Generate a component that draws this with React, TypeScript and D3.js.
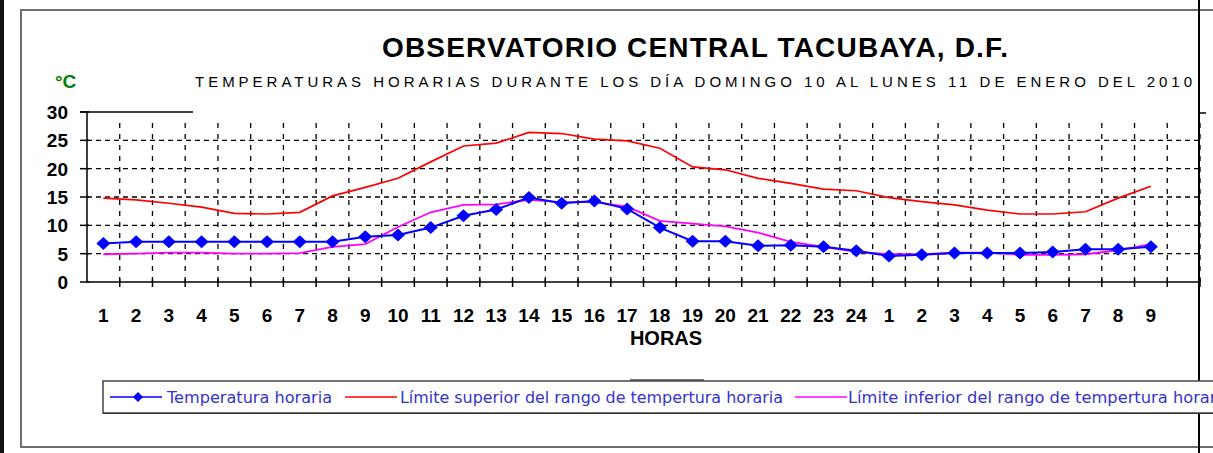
import * as d3 from "d3";

// hours on the x axis (sunday 10 -> monday 11)
const hourLabels = [
  "1", "2", "3", "4", "5", "6", "7", "8", "9", "10", "11", "12",
  "13", "14", "15", "16", "17", "18", "19", "20", "21", "22", "23", "24",
  "1", "2", "3", "4", "5", "6", "7", "8", "9",
];
// one empty slot after the last hour
const categories = [...hourLabels, ""];

const temperature = [
  6.8, 7.1, 7.1, 7.1, 7.1, 7.1, 7.1, 7.1, 8.0, 8.3, 9.6, 11.7,
  12.8, 14.9, 13.9, 14.3, 12.9, 9.6, 7.2, 7.2, 6.4, 6.5, 6.2, 5.5,
  4.6, 4.8, 5.1, 5.1, 5.1, 5.3, 5.8, 5.8, 6.2,
];
const upperLimit = [
  14.8, 14.5, 13.9, 13.2, 12.1, 12.0, 12.3, 15.2, 16.7, 18.3, 21.2, 24.0,
  24.5, 26.4, 26.2, 25.2, 24.9, 23.6, 20.3, 19.8, 18.3, 17.4, 16.4, 16.1,
  14.9, 14.2, 13.6, 12.7, 12.0, 12.0, 12.4, 14.8, 16.9,
];
const lowerLimit = [
  4.9, 5.0, 5.2, 5.2, 5.0, 5.0, 5.1, 6.2, 6.7, 9.7, 12.3, 13.6,
  13.7, 14.5, 14.1, 14.1, 13.3, 10.8, 10.3, 9.8, 8.7, 7.1, 6.2, 5.3,
  4.9, 4.9, 5.2, 5.2, 4.8, 4.8, 4.9, 5.6, 6.7,
];
const yTicks = [0, 5, 10, 15, 20, 25, 30];

const legendItems = [
  { label: "Temperatura horaria", color: "#0000ff", marker: true },
  { label: "Límite superior del rango de tempertura horaria", color: "#ff0000", marker: false },
  { label: "Límite inferior del rango  de tempertura horaria", color: "#ff00ff", marker: false },
];

const W = 1213;
const H = 453;
const FONT = "'Liberation Sans', Arial, sans-serif";

function diamond(cx: number, cy: number, rx: number, ry: number) {
  return `M${cx},${cy - ry}L${cx + rx},${cy}L${cx},${cy + ry}L${cx - rx},${cy}Z`;
}

export default function App() {
  const plot = { left: 87, right: 1200, top: 112, bottom: 282 };

  const x = d3
    .scaleBand<number>()
    .domain(categories.map((_, i) => i))
    .range([plot.left, plot.right])
    .padding(0);
  const bw = x.bandwidth();
  const cx = (i: number) => (x(i) as number) + bw / 2;

  const y = d3.scaleLinear().domain([0, 30]).range([plot.bottom, plot.top]);

  const line = d3
    .line<number>()
    .x((_, i) => cx(i))
    .y((d) => y(d));

  const boundaries = categories.map((_, i) => (x(i) as number) + bw);

  // legend layout
  const legY = 397;
  const legStarts = [110, 345, 795];
  const textStarts = [167, 400, 848];
  const textLens = [165, 383, 383];

  return (
    <svg
      width={W}
      height={H}
      style={{ position: "absolute", left: 0, top: 0, background: "#fff" }}
      fontFamily={FONT}
    >
      <rect x={0} y={0} width={W} height={H} fill="#fff" />
      <rect x={0} y={0} width={4} height={H} fill="#111" />

      {/* outer frame */}
      <rect x={21} y={10} width={W} height={437} fill="none" stroke="#6e6e6e" strokeWidth={2} />
      <line x1={1199} x2={1199} y1={0} y2={H} stroke="#000" strokeWidth={2} />

      {/* titles */}
      <text x={382} y={57} fontSize={28} fontWeight="bold" textLength={626} lengthAdjust="spacing">
        OBSERVATORIO CENTRAL TACUBAYA, D.F.
      </text>
      <text x={195} y={87} fontSize={15} textLength={997} lengthAdjust="spacing">
        TEMPERATURAS HORARIAS DURANTE LOS DÍA DOMINGO 10 AL LUNES 11 DE ENERO DEL 2010
      </text>
      <text x={55} y={88} fontSize={19} fontWeight="bold" fill="#008000">°C</text>

      {/* horizontal dashed grid */}
      {yTicks.filter((t) => t > 0 && t < 30).map((t) => (
        <line
          key={"h" + t}
          x1={plot.left}
          x2={plot.right}
          y1={y(t)}
          y2={y(t)}
          stroke="#000"
          strokeWidth={1.3}
          strokeDasharray="5,4"
        />
      ))}
      {/* vertical dashed grid */}
      {boundaries.map((bx, i) => (
        <line
          key={"v" + i}
          x1={bx}
          x2={bx}
          y1={plot.top + 11}
          y2={plot.bottom}
          stroke="#000"
          strokeWidth={1.3}
          strokeDasharray="5,6"
        />
      ))}

      {/* axes */}
      <line x1={plot.left} x2={plot.left} y1={plot.top} y2={plot.bottom} stroke="#000" strokeWidth={1.5} />
      <line x1={plot.left - 7} x2={193} y1={plot.top} y2={plot.top} stroke="#000" strokeWidth={1.5} />
      <line x1={plot.right} x2={plot.right + 6} y1={plot.top + 1} y2={plot.top + 1} stroke="#000" strokeWidth={1.5} />
      <line x1={plot.left} x2={plot.right} y1={plot.bottom} y2={plot.bottom} stroke="#000" strokeWidth={1.5} />
      {yTicks.map((t) => (
        <line key={"yt" + t} x1={plot.left - 7} x2={plot.left + 2} y1={y(t)} y2={y(t)} stroke="#000" strokeWidth={1.5} />
      ))}
      {boundaries.map((bx, i) => (
        <line key={"xt" + i} x1={bx} x2={bx} y1={plot.bottom - 3} y2={plot.bottom + 5} stroke="#000" strokeWidth={1.5} />
      ))}
      {yTicks.map((t) => (
        <text key={"yl" + t} x={68} y={y(t) + 7} fontSize={19} fontWeight="bold" textAnchor="end">
          {t}
        </text>
      ))}
      {hourLabels.map((h, i) => (
        <text key={"xl" + i} x={cx(i)} y={322} fontSize={19} fontWeight="bold" textAnchor="middle">
          {h}
        </text>
      ))}
      <text x={666} y={345} fontSize={20} fontWeight="bold" textAnchor="middle">HORAS</text>

      {/* series */}
      <path d={line(upperLimit) || ""} fill="none" stroke="#ff0000" strokeWidth={1.7} />
      <path d={line(lowerLimit) || ""} fill="none" stroke="#ff00ff" strokeWidth={1.8} />
      <path d={line(temperature) || ""} fill="none" stroke="#0000ff" strokeWidth={2} />
      {temperature.map((d, i) => (
        <path key={"m" + i} d={diamond(cx(i), y(d), 7, 6.5)} fill="#0000ff" />
      ))}

      {/* legend */}
      <rect x={103} y={381} width={W} height={32} fill="#fff" stroke="#444" strokeWidth={1.5} />
      <line x1={103} x2={W} y1={413.5} y2={413.5} stroke="#333" strokeWidth={1} />
      <line x1={630} x2={704} y1={380} y2={380} stroke="#444" strokeWidth={1.5} />
      {legendItems.map((it, i) => (
        <g key={"lg" + i}>
          <line x1={legStarts[i]} x2={legStarts[i] + 52} y1={legY} y2={legY} stroke={it.color} strokeWidth={1.7} />
          {it.marker && <path d={diamond(legStarts[i] + 28, legY, 5, 5)} fill={it.color} />}
          <text
            x={textStarts[i]}
            y={legY + 6}
            fontSize={16}
            fill="#3333cc"
            fontFamily="'DejaVu Sans', Tahoma, sans-serif"
            textLength={textLens[i]}
            lengthAdjust="spacingAndGlyphs"
          >
            {it.label}
          </text>
        </g>
      ))}
    </svg>
  );
}
